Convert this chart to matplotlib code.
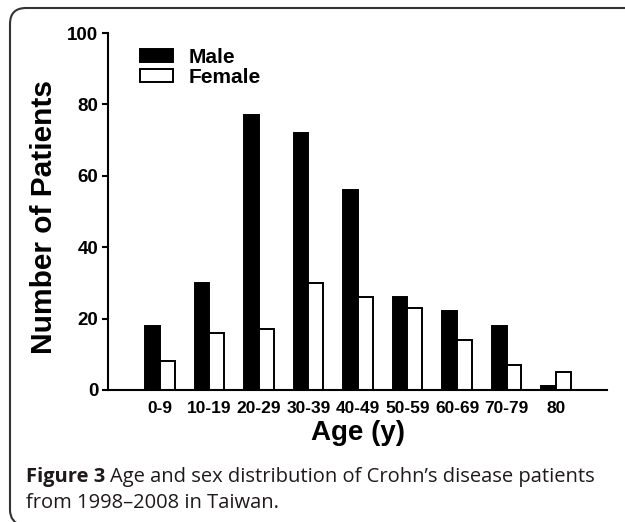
import matplotlib.pyplot as plt
import numpy as np
from matplotlib.path import Path
from matplotlib.patches import PathPatch

age_groups = ['0-9', '10-19', '20-29', '30-39', '40-49', '50-59', '60-69', '70-79', '80']
male = [18, 30, 77, 72, 56, 26, 22, 18, 1]
female = [8, 16, 17, 30, 26, 23, 14, 7, 5]
yticks = [0, 20, 40, 60, 80, 100]

plt.rcParams['font.family'] = ['Liberation Sans', 'DejaVu Sans']

fig = plt.figure(figsize=(6.25, 5.22), dpi=100)
W, H = 625, 522
ax = fig.add_axes([108 / W, 1 - 390 / H, (607 - 108) / W, (390 - 33) / H])

x = np.arange(len(age_groups))
bw = 0.3
ax.bar(x - bw / 2, male, bw, color='black', edgecolor='black', linewidth=1.4, label='Male')
ax.bar(x + bw / 2, female, bw, color='white', edgecolor='black', linewidth=1.4, label='Female')

ax.set_xlim(-1.05, 9.03)
ax.set_ylim(0, 100)
ax.set_yticks(yticks)
ax.set_xticks(x)
ax.set_xticklabels(age_groups, fontsize=12.5, fontweight='bold')
ax.set_yticklabels([str(t) for t in yticks], fontsize=13.5, fontweight='bold')
ax.tick_params(axis='x', length=0, pad=8)
ax.tick_params(axis='y', length=4, width=1.5, pad=3)
for s in ['top', 'right']:
    ax.spines[s].set_visible(False)
for s in ['left', 'bottom']:
    ax.spines[s].set_linewidth(1.5)

fig.text(44 / W, 1 - 217 / H, 'Number of Patients', rotation=90, ha='center', va='center',
         fontsize=21.5, fontweight='bold')
fig.text(358 / W, 1 - 433 / H, 'Age (y)', ha='center', va='center', fontsize=20, fontweight='bold')

leg = ax.legend(loc='upper left', bbox_to_anchor=(140 / W, 1 - 48 / H), bbox_transform=fig.transFigure,
                frameon=False, prop={'size': 15, 'weight': 'bold'}, handlelength=1.6, handleheight=0.55,
                handletextpad=0.75, labelspacing=0.05, borderpad=0, borderaxespad=0)

# caption
cap_color = '#1e1a1b'
t1 = fig.text(26 / W, 1 - 482 / H, 'Figure 3', fontsize=14.5, fontweight='bold', color=cap_color,
              family='Open Sans', va='baseline')
fig.canvas.draw()
bb = t1.get_window_extent()
fig.text(bb.x1 / W + 5 / W, 1 - 482 / H, "Age and sex distribution of Crohn\u2019s disease patients",
         fontsize=14.5, color=cap_color, family='Open Sans', va='baseline')
fig.text(26 / W, 1 - 508 / H, 'from 1998\u20132008 in Taiwan.', fontsize=14.5, color=cap_color,
         family='Open Sans', va='baseline')

# rounded frame
r = 16
verts = [(W + 5, 8), (10 + r, 8), (10, 8), (10, 8 + r), (10, 510), (10, 522), (22, 526)]
codes = [Path.MOVETO, Path.LINETO, Path.CURVE3, Path.CURVE3, Path.LINETO, Path.CURVE3, Path.CURVE3]
verts = [(vx / W, 1 - vy / H) for vx, vy in verts]
fig.patches.append(PathPatch(Path(verts, codes), transform=fig.transFigure, fill=False,
                             edgecolor='#333333', linewidth=1.5))

fig.savefig('out.png', dpi=100)
